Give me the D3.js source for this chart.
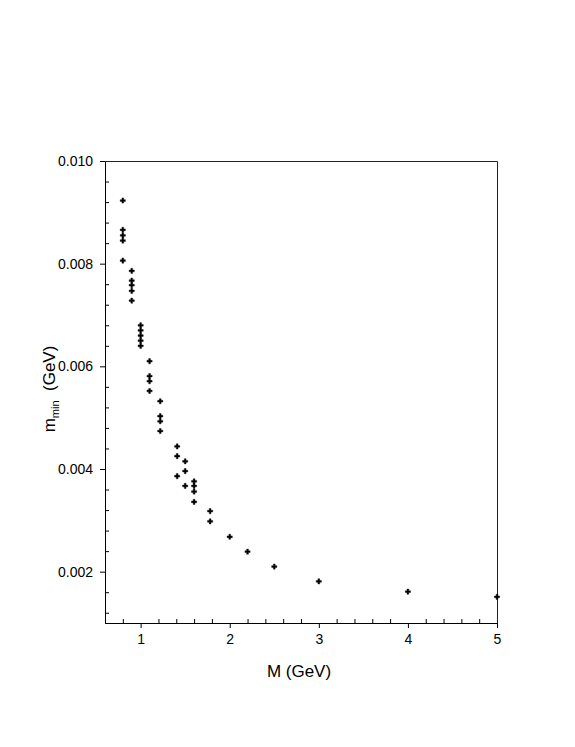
<!DOCTYPE html>
<html>
<head>
<meta charset="utf-8">
<script src="https://cdn.jsdelivr.net/npm/d3@7"></script>
<style>
  body { margin: 0; background: #fff; }
  svg text { font-family: "Liberation Sans", Arial, sans-serif; fill: #000; }
  .axis path, .axis line { stroke: #000; }
</style>
</head>
<body>
<svg id="chart" width="575" height="747"></svg>
<script>
// M (GeV) of each point
var massM = [
  0.8, 0.8, 0.8, 0.8, 0.8,
  0.9, 0.9, 0.9, 0.9, 0.9,
  1.0, 1.0, 1.0, 1.0, 1.0,
  1.1, 1.1, 1.1, 1.1,
  1.22, 1.22, 1.22, 1.22,
  1.41, 1.41, 1.41,
  1.5, 1.5, 1.5,
  1.6, 1.6, 1.6, 1.6,
  1.78, 1.78,
  2.0, 2.2, 2.5, 3.0, 4.0, 5.0
];
// m_min (GeV) of each point
var mMin = [
  0.00923, 0.00866, 0.00855, 0.00845, 0.00806,
  0.00786, 0.00767, 0.00758, 0.00747, 0.00728,
  0.00680, 0.00670, 0.00660, 0.00650, 0.00640,
  0.00610, 0.00581, 0.00571, 0.00552,
  0.00532, 0.00503, 0.00493, 0.00474,
  0.00444, 0.00425, 0.00386,
  0.00415, 0.00396, 0.00367,
  0.00376, 0.00367, 0.00356, 0.00336,
  0.00318, 0.00298,
  0.00268, 0.00239, 0.00210, 0.00181, 0.00161, 0.00151
];
var xTicks = [1, 2, 3, 4, 5];
var xMinorTicks = [0.8, 1.2, 1.4, 1.6, 1.8, 2.2, 2.4, 2.6, 2.8, 3.2, 3.4, 3.6, 3.8, 4.2, 4.4, 4.6, 4.8];
var yTicks = [0.002, 0.004, 0.006, 0.008, 0.010];
var yMinorTicks = [0.0012, 0.0016, 0.0024, 0.0028, 0.0032, 0.0036, 0.0044, 0.0048, 0.0052, 0.0056,
                   0.0064, 0.0068, 0.0072, 0.0076, 0.0084, 0.0088, 0.0092, 0.0096];

var marginLeft = 105, marginTop = 161, plotW = 392, plotH = 462;

var svg = d3.select("#chart");

var x = d3.scaleLinear().domain([0.6, 5]).range([0, plotW]);
var y = d3.scaleLinear().domain([0.001, 0.010]).range([plotH, 0]);

var g = svg.append("g").attr("transform", "translate(" + marginLeft + "," + marginTop + ")");

// marco arriba / derecha
g.append("path")
  .attr("d", "M0.5,0.5H" + (plotW + 0.5) + "V" + (plotH + 0.5))
  .attr("fill", "none")
  .attr("stroke", "#222")
  .attr("stroke-width", 1);

// minor ticks (hacia dentro)
g.append("g")
  .attr("class", "axis")
  .attr("transform", "translate(0," + plotH + ")")
  .call(d3.axisBottom(x).tickValues(xMinorTicks).tickSize(-4).tickSizeOuter(0).tickFormat(""));
g.append("g")
  .attr("class", "axis")
  .call(d3.axisLeft(y).tickValues(yMinorTicks).tickSize(-4).tickSizeOuter(0).tickFormat(""));

// major ticks (hacia fuera)
g.append("g")
  .attr("class", "axis")
  .attr("transform", "translate(0," + plotH + ")")
  .call(d3.axisBottom(x).tickValues(xTicks).tickSize(5).tickSizeOuter(0).tickPadding(6).tickFormat(d3.format("d")));
g.append("g")
  .attr("class", "axis")
  .call(d3.axisLeft(y).tickValues(yTicks).tickSize(5).tickSizeOuter(0).tickPadding(7).tickFormat(d3.format(".3f")));
svg.selectAll(".axis text").style("font-size", "14px").style("font-family", "'Liberation Sans', Arial, sans-serif");

// puntos
var pts = massM.map(function (m, i) { return { m: m, v: mMin[i] }; });
g.selectAll(".pt")
  .data(pts)
  .enter().append("path")
  .attr("class", "pt")
  .attr("d", d3.symbol().type(d3.symbolCross).size(15))
  .attr("transform", function (d) { return "translate(" + x(d.m) + "," + y(d.v) + ")"; })
  .attr("fill", "#000")
  .attr("stroke", "#000")
  .attr("stroke-width", 0.4);

// titulos de ejes
svg.append("text")
  .attr("x", marginLeft + plotW / 2 - 2)
  .attr("y", 677)
  .attr("text-anchor", "middle")
  .style("font-size", "17px")
  .text("M (GeV)");

var yl = svg.append("text")
  .attr("transform", "translate(55,389) rotate(-90)")
  .attr("text-anchor", "middle")
  .style("font-size", "17px");
yl.append("tspan").text("m");
yl.append("tspan").attr("dy", 4).style("font-size", "11px").text("min");
yl.append("tspan").attr("dy", -4).text("\u00a0 (GeV)");
</script>
</body>
</html>
